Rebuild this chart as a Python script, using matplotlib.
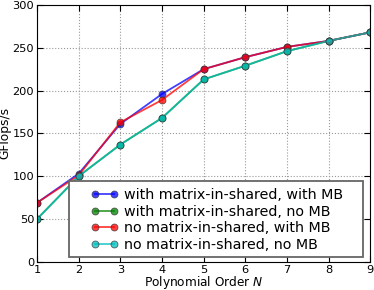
import matplotlib
matplotlib.use("Agg")
import matplotlib.pyplot as plt
from matplotlib.patches import Rectangle

orders = [1, 2, 3, 4, 5, 6, 7, 8, 9]
with_shared_with_mb = [69, 103, 161, 196, 225, 239, 251, 258, 268]
with_shared_no_mb = [50, 100, 137, 168, 213, 229, 246, 258, 268]
no_shared_with_mb = [69, 101, 163, 189, 225, 239, 251, 258, 268]
no_shared_no_mb = [50, 100, 137, 168, 213, 229, 246, 258, 268]

labels = ["with matrix-in-shared, with MB",
          "with matrix-in-shared, no MB",
          "no matrix-in-shared, with MB",
          "no matrix-in-shared, no MB"]
colors = ["#0000ff", "#008000", "#ff0000", "#00bfbf"]
series = [with_shared_with_mb, with_shared_no_mb, no_shared_with_mb, no_shared_no_mb]

fig = plt.figure(figsize=(3.74, 2.90), dpi=100)
ax = fig.add_axes([0.099, 0.097, 0.891, 0.886])
for s, c, l in zip(series, colors, labels):
    ax.plot(orders, s, "-o", color=c, alpha=0.75, lw=1.3, ms=5,
            markeredgecolor="#333333", markeredgewidth=0.6, label=l)

ax.set_xlim(1, 9)
ax.set_ylim(0, 300)
ax.set_xticks(orders)
ax.set_yticks([0, 50, 100, 150, 200, 250, 300])
ax.grid(True, linestyle=":", color="#999999", lw=0.8)
ax.tick_params(labelsize=8.2, direction="in", length=4, top=True, right=True, pad=2)
ax.set_xlabel("Polynomial Order $N$", fontsize=8.7, labelpad=0)
ax.set_ylabel("GFlops/s", fontsize=8.8, labelpad=1)
ax.xaxis.set_label_coords(0.5, -0.046)
ax.yaxis.set_label_coords(-0.076, 0.5)

# legend frame drawn separately to match the wide horizontal padding
rect = Rectangle((69 / 374, 1 - 257 / 290), (363 - 69) / 374, (257 - 181) / 290,
                 transform=fig.transFigure, facecolor="white", edgecolor="#666666",
                 lw=1.3, zorder=4.5, clip_on=False)
ax.add_patch(rect)
leg = ax.legend(loc="center", bbox_to_anchor=(217 / 374, 1 - 220 / 290),
                bbox_transform=fig.transFigure, fontsize=10.3, numpoints=2,
                frameon=False, handlelength=1.9, borderpad=0.0, labelspacing=0.17,
                handletextpad=0.45)
leg.set_zorder(5)
fig.savefig("out.png", dpi=100)
